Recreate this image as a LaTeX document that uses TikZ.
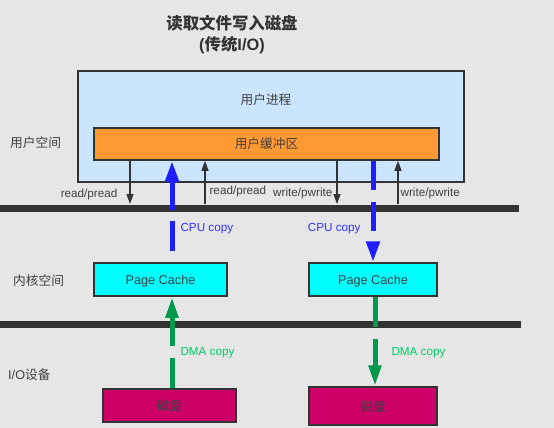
\documentclass[tikz,border=0pt]{standalone}
\usepackage{fontspec}
\setmainfont{Liberation Sans}
\newfontfamily\cjk{Noto Sans CJK SC}
\usetikzlibrary{arrows.meta}
\definecolor{myGray}{RGB}{230,230,230}
\definecolor{myText}{RGB}{64,64,64}
\definecolor{myEdge}{RGB}{51,51,51}
\definecolor{myProc}{RGB}{204,229,255}
\definecolor{myOrange}{RGB}{255,153,51}
\definecolor{myCyan}{RGB}{0,255,255}
\definecolor{myDisk}{RGB}{204,0,102}
\definecolor{myBlue}{RGB}{30,30,255}
\definecolor{myGreen}{RGB}{0,153,76}
\definecolor{myCopyBlue}{RGB}{51,51,255}
\definecolor{myCopyGreen}{RGB}{0,204,102}

\begin{document}
\begin{tikzpicture}[x=1pt,y=-1pt,
  box/.style={draw=myEdge, line width=1.5pt, inner sep=0pt, text=myText,
    font=\fontsize{12.7}{15}\selectfont},
  txt/.style={inner sep=0pt, text=myText, font=\cjk\fontsize{12.7}{15}\selectfont},
  call/.style={draw=myEdge, line width=1.2pt, -{Triangle[length=10pt,width=7pt]}},
  callnote/.style={inner sep=0pt, text=myText, font=\fontsize{11.7}{14}\selectfont},
  cpucopy/.style={draw=myBlue, line width=5pt, -{Triangle[length=21pt,width=13pt]}},
  dmacopy/.style={draw=myGreen, line width=5pt, -{Triangle[length=21pt,width=12pt]}},
  copynote/.style={inner sep=0pt, font=\fontsize{11.7}{14}\selectfont}]
  \fill[myGray] (0,0) rectangle (554,428);
  \useasboundingbox (0,0) rectangle (554,428);

  % title
  \node[txt, font=\cjk\bfseries\fontsize{16.4}{20}\selectfont, text=myEdge] (title) at (232,23) {读取文件写入磁盘};
  \node[txt, font=\cjk\bfseries\fontsize{16.4}{20}\selectfont, text=myEdge] (subtitle) at (232,45)
    {{\rmfamily\bfseries (}传统{\rmfamily\bfseries I/O)}};

  % spaces
  \node[txt, anchor=west] (user) at (10,143) {用户空间};
  \node[txt, anchor=west] (kernel) at (13,281) {内核空间};
  \node[txt, anchor=west] (io) at (8,375) {{\rmfamily I/O}设备};
  \draw[myEdge, line width=7pt] (0,208) -- (519,208);
  \draw[myEdge, line width=7pt] (0,324.5) -- (521,324.5);

  % user process
  \node[box, fill=myProc, minimum width=386pt, minimum height=111pt] (proc) at (271,126.5) {};
  \node[txt] (procname) at (266,100) {用户进程};
  \node[box, fill=myOrange, minimum width=345pt, minimum height=32pt, font=\cjk\fontsize{12.7}{15}\selectfont] (buf) at (266.5,144) {用户缓冲区};

  % kernel and devices
  \node[box, fill=myCyan, minimum width=133pt, minimum height=33pt, text depth=0pt] (pcL) at (160.5,279.5) {Page Cache};
  \node[box, fill=myCyan, minimum width=128pt, minimum height=33pt, text depth=0pt] (pcR) at (373,279.5) {Page Cache};
  \node[box, fill=myDisk, minimum width=133pt, minimum height=33pt, font=\cjk\fontsize{12.7}{15}\selectfont] (diskL) at (169.5,405.5) {磁盘};
  \node[box, fill=myDisk, minimum width=128pt, minimum height=38pt, font=\cjk\fontsize{12.7}{15}\selectfont] (diskR) at (373,406) {磁盘};

  % system calls
  \coordinate (k1) at (130,204);
  \coordinate (k2) at (205,204);
  \coordinate (k3) at (337,204);
  \coordinate (k4) at (398,204);
  \draw[call] (buf.south -| k1) -- (k1) node[callnote, pos=0.77, anchor=east, xshift=-12pt] {read/pread};
  \draw[call] (k2) -- (buf.south -| k2) node[callnote, pos=0.3, anchor=west, xshift=4pt] {read/pread};
  \draw[call] (buf.south -| k3) -- (k3) node[callnote, pos=0.75, anchor=east, xshift=-4pt] {write/pwrite};
  \draw[call] (k4) -- (buf.south -| k4) node[callnote, pos=0.25, anchor=west, xshift=2pt] {write/pwrite};

  % copies
  \draw[cpucopy, dash pattern=on 30pt off 11pt, dash phase=30pt] ([xshift=11.5pt]pcL.north) -- ([xshift=11.5pt]pcL.north |- buf.south)
    node[copynote, text=myCopyBlue, pos=0.33, anchor=west, xshift=6pt] {CPU copy};
  \draw[cpucopy, dash pattern=on 29pt off 12pt] (buf.south -| pcR.north) -- (pcR.north)
    node[copynote, text=myCopyBlue, pos=0.64, anchor=east, xshift=-10pt, yshift=-3pt] {CPU copy};
  \draw[dmacopy, dash pattern=on 30pt off 12pt] ([xshift=2.5pt]diskL.north) -- ([xshift=2.5pt]diskL.north |- pcL.south)
    node[copynote, text=myCopyGreen, pos=0.41, anchor=west, xshift=6pt, yshift=-2pt] {DMA copy};
  \draw[dmacopy, dash pattern=on 30pt off 12pt] ([xshift=2pt]pcR.south) -- ([xshift=2pt]pcR.south |- diskR.north)
    node[copynote, text=myCopyGreen, pos=0.62, anchor=west, xshift=14pt] {DMA copy};
\end{tikzpicture}
\end{document}
